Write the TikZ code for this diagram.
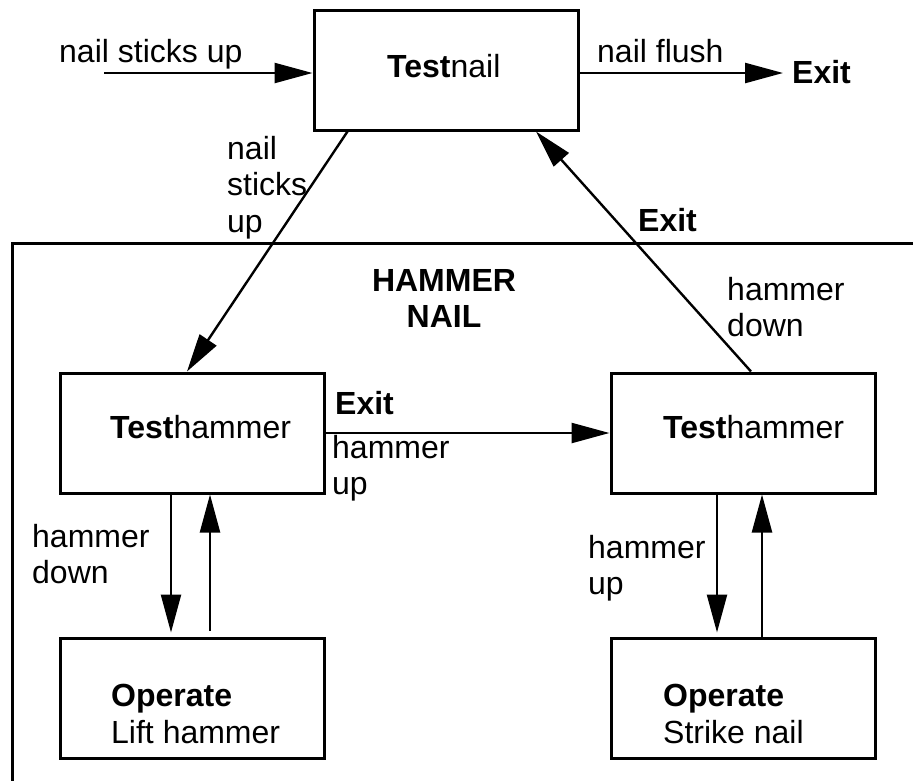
\documentclass[tikz,border=0pt]{standalone}
\usepackage{fontspec}
\setmainfont{Liberation Sans}
\usetikzlibrary{arrows.meta}
\begin{document}
\begin{tikzpicture}[x=1pt, y=-1pt,
  box/.style={draw, line width=3pt, minimum width=264pt, minimum height=120pt, inner sep=0pt},
  txt/.style={inner sep=0pt, font=\fontsize{32}{36.5}\selectfont},
  lbl/.style={txt, anchor=north west, align=left},
  bold/.style={font=\fontsize{32}{36.5}\selectfont\bfseries},
  flow/.style={line width=2.4pt, -{Triangle[length=38pt,width=20pt]}},
  planframe/.style={line width=3pt}]
\useasboundingbox (0,0) rectangle (913,780);

% enclosing frame of the HAMMER NAIL plan
\draw[planframe] (914,243) -- (12,243) -- (12,781);
\node[txt, bold, anchor=north, align=center] (plan) at (444,269) {HAMMER\\NAIL};

% boxes
\node[box] (tn)  at (446,70)  {};
\node[box] (thl) at (192,433) {};
\node[box] (thr) at (743,433) {};
\node[box] (opl) at (192,698) {};
\node[box] (ops) at (743,698) {};

% box texts
\node[txt, anchor=base west] (tntxt)  at (387,77)  {\textbf{Test}nail};
\node[txt, anchor=base west] (thltxt) at (110,438) {\textbf{Test}hammer};
\node[txt, anchor=base west] (thrtxt) at (663,438) {\textbf{Test}hammer};
\node[lbl] (opltxt) at (111,684) {\textbf{Operate}\\Lift hammer};
\node[lbl] (opstxt) at (663,684) {\textbf{Operate}\\Strike nail};

% entry and exit of the top test
\coordinate (entry) at (104,73);
\coordinate (exitin) at (783,73);
\node[txt, bold, anchor=base west] (exit) at (792,83) {Exit};
\draw[flow] (entry) -- (entry -| tn.west);
\draw[flow] (tn.east |- exitin) -- (exitin);
\node[txt, anchor=base west] (lin)  at (59,62)  {nail sticks up};
\node[txt, anchor=base west] (lout) at (597,62) {nail flush};

% top test <-> hammer nail plan
\draw[flow] ([xshift=35pt]tn.south west) -- ([xshift=-5pt]thl.north);
\draw[flow] ([xshift=8pt]thr.north) -- ([xshift=90pt]tn.south);
\node[lbl] (lstick) at (227,136) {nail\\sticks\\up};
\node[txt, bold, anchor=base west] (exit2) at (638,231) {Exit};
\node[lbl] (lhd) at (727,277) {hammer\\down};

% between the two hammer tests
\draw[flow] (thl.east) -- (thr.west);
\node[txt, bold, anchor=base west] (exit3) at (335,414) {Exit};
\node[lbl] (lhu) at (332,435) {hammer\\up};

% hammer tests <-> operations
\draw[flow] ([xshift=-21pt]thl.south) -- ([xshift=-21pt,yshift=4pt]opl.north);
\draw[flow] ([xshift=18pt,yshift=6pt]opl.north) -- ([xshift=18pt]thl.south);
\node[lbl] (lhd2) at (32,524) {hammer\\down};

\draw[flow] ([xshift=-26pt]thr.south) -- ([xshift=-26pt,yshift=4pt]ops.north);
\draw[flow] ([xshift=19pt]ops.north) -- ([xshift=19pt]thr.south);
\node[lbl] (lhu2) at (588,535) {hammer\\up};
\end{tikzpicture}
\end{document}
